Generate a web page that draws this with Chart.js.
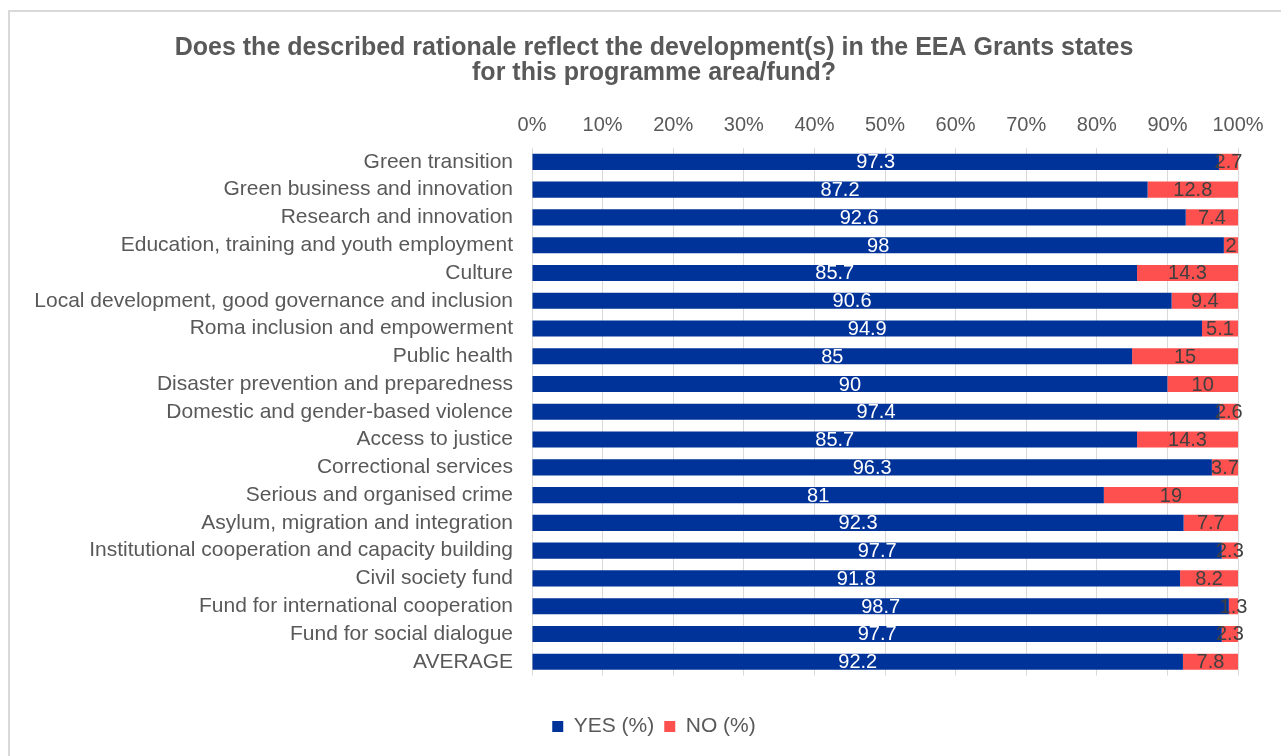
<!DOCTYPE html>
<html>
<head>
<meta charset="utf-8">
<title>EEA Grants rationale</title>
<script src="https://cdn.jsdelivr.net/npm/chart.js@4"></script>
<style>
  html, body { margin: 0; padding: 0; background: #ffffff; overflow: hidden; }
  #frame {
    position: absolute;
    left: 8px;
    top: 10px;
    width: 1300px;
    height: 780px;
    border: 2px solid #d9d9d9;
  }
  #rationaleChart { position: absolute; left: 0; top: 0; }
</style>
</head>
<body>
<div id="frame"></div>
<canvas id="rationaleChart" width="1281" height="756"></canvas>
<script>
// Programme areas / funds, top to bottom
const areas = [
  "Green transition",
  "Green business and innovation",
  "Research and innovation",
  "Education, training and youth employment",
  "Culture",
  "Local development, good governance and inclusion",
  "Roma inclusion and empowerment",
  "Public health",
  "Disaster prevention and preparedness",
  "Domestic and gender-based violence",
  "Access to justice",
  "Correctional services",
  "Serious and organised crime",
  "Asylum, migration and integration",
  "Institutional cooperation and capacity building",
  "Civil society fund",
  "Fund for international cooperation",
  "Fund for social dialogue",
  "AVERAGE",
];

const yesPct = [97.3, 87.2, 92.6, 98, 85.7, 90.6, 94.9, 85, 90, 97.4, 85.7, 96.3, 81, 92.3, 97.7, 91.8, 98.7, 97.7, 92.2];
const noPct = [2.7, 12.8, 7.4, 2, 14.3, 9.4, 5.1, 15, 10, 2.6, 14.3, 3.7, 19, 7.7, 2.3, 8.2, 1.3, 2.3, 7.8];

const seriesNames = ["YES (%)", "NO (%)"];
const pctTicks = [0, 10, 20, 30, 40, 50, 60, 70, 80, 90, 100];

const FONT = "'Liberation Sans', Arial, sans-serif";
const GREY_TEXT = "#595959";

// writes each segment's value in the middle of its bar
const barValueLabels = {
  id: "barValueLabels",
  afterDatasetsDraw(chart) {
    const c = chart.ctx;
    c.save();
    c.font = "20px " + FONT;
    c.textAlign = "center";
    c.textBaseline = "middle";
    chart.data.datasets.forEach((ds, i) => {
      const meta = chart.getDatasetMeta(i);
      c.fillStyle = ds.labelColor;
      meta.data.forEach((bar, j) => {
        const p = bar.getProps(["x", "y", "base"], true);
        c.fillText(String(ds.data[j]), (p.x + p.base) / 2, p.y + 1);
      });
    });
    c.restore();
  },
};

// title and legend sit centred a bit right of the canvas middle,
// while the category labels need the full left margin
const centreBlocks = {
  id: "centreBlocks",
  afterLayout(chart) {
    [chart.titleBlock, chart.legend].forEach((box) => {
      if (!box) return;
      box.left = 70;
      box.right = chart.chartArea.right;
    });
  },
};

document.addEventListener("DOMContentLoaded", function () {
  const canvas = document.getElementById("rationaleChart");
  const ctx = canvas.getContext("2d");

  new Chart(ctx, {
    type: "bar",
    data: {
      labels: areas,
      datasets: [
        {
          label: seriesNames[0],
          data: yesPct,
          backgroundColor: "#003399",
          labelColor: "#ffffff",
          barPercentage: 0.58,
          categoryPercentage: 1,
        },
        {
          label: seriesNames[1],
          data: noPct,
          backgroundColor: "#ff5050",
          labelColor: "#404040",
          barPercentage: 0.58,
          categoryPercentage: 1,
        },
      ],
    },
    options: {
      indexAxis: "y",
      responsive: false,
      animation: false,
      layout: {
        padding: { left: 12, right: 43, top: 0, bottom: 9 },
      },
      scales: {
        x: {
          position: "top",
          stacked: true,
          min: 0,
          max: 100,
          afterBuildTicks: (scale) => {
            scale.ticks = pctTicks.map((v) => ({ value: v }));
          },
          afterFit: (scale) => {
            scale.height = 62;
          },
          grid: {
            color: "#d9d9d9",
            lineWidth: 1,
            drawTicks: false,
          },
          border: { display: false },
          ticks: {
            color: GREY_TEXT,
            font: { size: 20, family: FONT },
            padding: 11,
            callback: (v) => v + "%",
          },
        },
        y: {
          stacked: true,
          afterFit: (scale) => {
            scale.width = 520;
          },
          grid: { display: false, drawTicks: false },
          border: { display: false },
          ticks: {
            color: GREY_TEXT,
            font: { size: 21, family: FONT },
            padding: 19,
            autoSkip: false,
          },
        },
      },
      plugins: {
        title: {
          display: true,
          text: [
            "Does the described rationale reflect the development(s) in the EEA Grants states",
            "for this programme area/fund?",
          ],
          color: GREY_TEXT,
          font: { size: 25, weight: "bold", family: FONT, lineHeight: 1.0 },
          padding: { top: 36, bottom: 0 },
        },
        legend: {
          position: "bottom",
          title: {
            display: true,
            text: "",
            padding: { top: 16, bottom: 0 },
          },
          labels: {
            color: GREY_TEXT,
            font: { size: 21, family: FONT },
            boxWidth: 11,
            boxHeight: 11,
            padding: 10,
          },
        },
        tooltip: { enabled: false },
      },
    },
    plugins: [barValueLabels, centreBlocks],
  });
});
</script>
</body>
</html>
